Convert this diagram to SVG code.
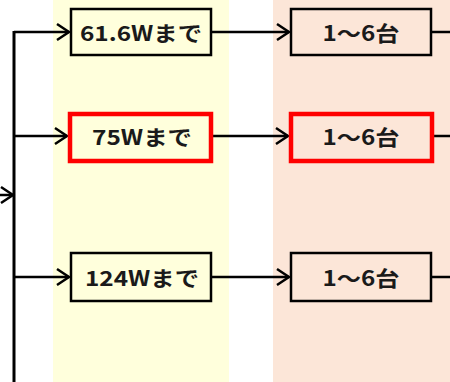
<svg xmlns="http://www.w3.org/2000/svg" width="450" height="382" viewBox="0 0 450 382">
<style>
.box{fill:none;stroke:#000;stroke-width:2.5}
.sel{fill:none;stroke:#FF0000;stroke-width:4.5}
.ln{stroke:#000;stroke-width:2.5;fill:none}
.t{font-family:"Noto Sans CJK JP","Noto Sans",sans-serif;font-weight:bold;font-size:21px;fill:#1a1a1a;text-anchor:middle;dominant-baseline:central}
</style>
<defs>
<marker id="ah" markerUnits="userSpaceOnUse" markerWidth="16" markerHeight="20" viewBox="-14 -10 16 20" refX="0" refY="0" orient="auto" overflow="visible">
<path d="M-12,-8 L0,0 L-12,8" fill="none" stroke="#000" stroke-width="2.5" stroke-linejoin="miter"/>
</marker>
</defs>
<rect x="0" y="0" width="450" height="382" fill="#FFFFFF"/>
<rect x="53" y="0" width="176" height="382" fill="#FFFFDC"/>
<rect x="273" y="0" width="177" height="382" fill="#FCE6D8"/>
<g id="connectors">
<line class="ln" x1="14" y1="31" x2="14" y2="382" style="stroke-width:3"/>
<line class="ln" x1="0" y1="195" x2="13" y2="195" marker-end="url(#ah)"/>
<line class="ln" x1="14" y1="32" x2="69" y2="32" marker-end="url(#ah)"/>
<line class="ln" x1="14" y1="136" x2="67" y2="136" marker-end="url(#ah)"/>
<line class="ln" x1="14" y1="277" x2="69" y2="277" marker-end="url(#ah)"/>
<line class="ln" x1="211" y1="32" x2="289" y2="32" marker-end="url(#ah)"/>
<line class="ln" x1="213" y1="136" x2="288" y2="136" marker-end="url(#ah)"/>
<line class="ln" x1="211" y1="277" x2="289" y2="277" marker-end="url(#ah)"/>
<line class="ln" x1="431" y1="32" x2="450" y2="32"/>
<line class="ln" x1="432" y1="136" x2="450" y2="136"/>
<line class="ln" x1="431" y1="277" x2="450" y2="277"/>
</g>
<g id="n1"><rect class="box" x="71" y="9" width="140" height="46"/><text class="t" x="141" y="32" textLength="122" lengthAdjust="spacingAndGlyphs">61.6Wまで</text></g>
<g id="n2"><rect class="sel" x="70" y="114" width="141" height="47"/><text class="t" x="142" y="136" textLength="100" lengthAdjust="spacingAndGlyphs">75Wまで</text></g>
<g id="n3"><rect class="box" x="71" y="253" width="140" height="48"/><text class="t" x="142" y="277" textLength="114" lengthAdjust="spacingAndGlyphs">124Wまで</text></g>
<g id="n4"><rect class="box" x="291" y="9" width="140" height="46"/><text class="t" x="361" y="32" textLength="77" lengthAdjust="spacingAndGlyphs">1～6台</text></g>
<g id="n5"><rect class="sel" x="291" y="114" width="141" height="47"/><text class="t" x="361" y="136" textLength="77" lengthAdjust="spacingAndGlyphs">1～6台</text></g>
<g id="n6"><rect class="box" x="291" y="253" width="140" height="48"/><text class="t" x="361" y="277" textLength="77" lengthAdjust="spacingAndGlyphs">1～6台</text></g>
</svg>
